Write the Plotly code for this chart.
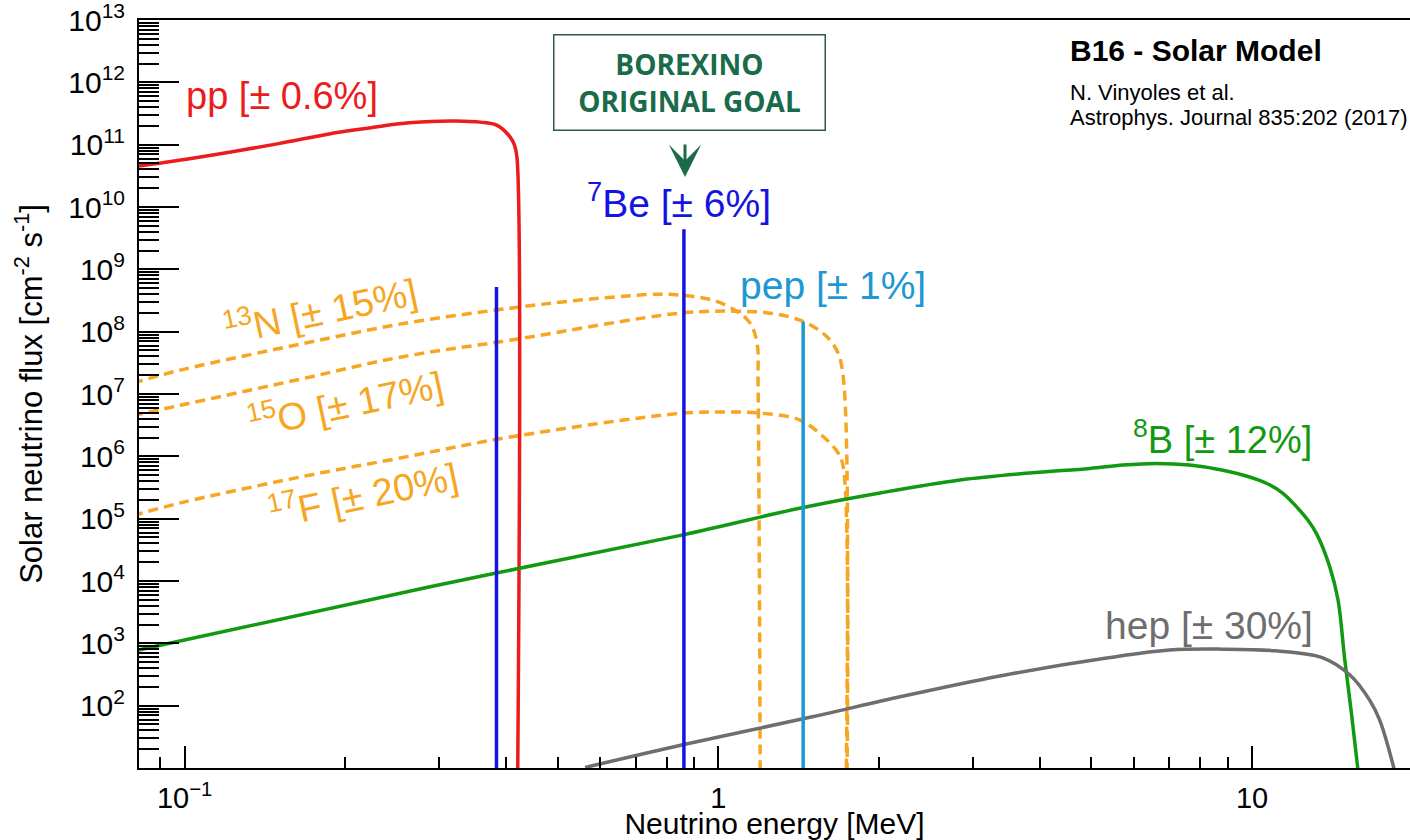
import plotly.graph_objects as go

# ---------------- data ----------------
pp_energy = [0.08, 0.1, 0.122, 0.15, 0.1875, 0.2164, 0.25, 0.2886, 0.32, 0.358, 0.385, 0.4074, 0.415, 0.4194, 0.42]
pp_flux = [4.4e10, 5.8e10, 7.6e10, 1.04e11, 1.5e11, 1.8e11, 2.15e11, 2.35e11, 2.39e11, 2.3e11, 2.04e11, 1.32e11, 9.8e10, 6.3e10, 1]

b8_energy = [0.08, 0.2884, 0.859, 1.42, 2.008, 2.835, 3.83, 4.967, 5.73, 6.62, 7.64, 8.825, 9.76, 10.64, 11.41,
             12.11, 12.72, 13.2, 13.98, 14.49, 14.92, 15.37, 15.8]
b8_flux = [747, 8.1e3, 5.5e4, 1.47e5, 2.58e5, 4.17e5, 5.4e5, 6.4e5, 7.26e5, 7.7e5, 7.26e5, 6.0e5, 4.83e5, 3.7e5, 2.58e5,
           1.56e5, 9.5e4, 5.8e4, 1.7e4, 5.0e3, 545, 71, 9]

hep_energy = [0.563, 0.858, 1.485, 2.2, 3.37, 5.34, 7.0, 8.81, 11.0, 13.57, 15.24, 16.6, 17.34, 18.5]
hep_flux = [10.2, 23.6, 65, 140, 300, 580, 780, 807, 760, 586, 313, 124, 59, 9]

n13_energy = [0.08, 0.0982, 0.1647, 0.2534, 0.4074, 0.6, 0.777, 0.848, 0.977, 1.082, 1.147, 1.182, 1.187, 1.199]
n13_flux = [1.5e7, 2.42e7, 6.3e7, 1.32e8, 2.38e8, 3.44e8, 4.0e8, 3.85e8, 3.2e8, 2.13e8, 1.37e8, 6.5e7, 1.5e7, 1]

o15_energy = [0.08, 0.0982, 0.1647, 0.2534, 0.4074, 0.848, 1.083, 1.25, 1.422, 1.573, 1.666, 1.714, 1.732]
o15_flux = [4.5e6, 6.6e6, 1.73e7, 3.9e7, 7.3e7, 1.98e8, 2.13e8, 1.98e8, 1.53e8, 9.35e7, 5.06e7, 1.89e7, 1]

f17_energy = [0.08, 0.0982, 0.1647, 0.2534, 0.4074, 0.848, 1.007, 1.197, 1.422, 1.573, 1.678, 1.714, 1.738]
f17_flux = [1.12e5, 1.79e5, 4.66e5, 9.4e5, 2.04e6, 4.89e6, 5.13e6, 4.94e6, 3.82e6, 2.06e6, 1.12e6, 6.8e5, 1]

line_names = ["7Be 384", "7Be 862", "pep"]
line_energy = [0.384, 0.862, 1.442]
line_flux = [5.2e8, 4.4e9, 1.44e8]

x_tick_vals = [0.1, 1, 10]
x_tick_text = ["10<sup>\u22121</sup>", "1", "10"]
y_tick_exps = list(range(2, 14))

# ---------------- styling ----------------
RED = "#ec1c1c"
BLUE = "#1414e0"
PEP = "#1d98d2"
ORANGE = "#f6a623"
GREEN = "#129912"
GRAY = "#6e6e6e"
BOXGREEN = "#1b6a4a"
FONT = "Liberation Sans, Arial, Helvetica, sans-serif"

W, H = 1410, 840
ML, MR, MT, MB = 139, 0, 20, 72
PW, PH = W - ML - MR, H - MT - MB


def pxx(x):
    return (x - ML) / PW


def pxy(y):
    return (H - MB - y) / PH


fig = go.Figure()


def add_curve(E, F, color, dash=None, width=3.5):
    fig.add_trace(go.Scatter(
        x=E, y=F, mode="lines",
        line=dict(color=color, width=width, dash=dash, shape="spline", smoothing=1.0),
        hoverinfo="skip", showlegend=False))


DASH = "10px,6px"
add_curve(n13_energy, n13_flux, ORANGE, DASH)
add_curve(o15_energy, o15_flux, ORANGE, DASH)
add_curve(f17_energy, f17_flux, ORANGE, DASH)
add_curve(pp_energy, pp_flux, RED)
add_curve(b8_energy, b8_flux, GREEN)
add_curve(hep_energy, hep_flux, GRAY)

line_colors = [BLUE, BLUE, PEP]
for e, f, c in zip(line_energy, line_flux, line_colors):
    fig.add_trace(go.Scatter(x=[e, e], y=[1, f], mode="lines",
                             line=dict(color=c, width=3.5),
                             hoverinfo="skip", showlegend=False))

x_minor = [k * 10 ** n for n in (-2, -1, 0, 1) for k in range(2, 10)]
y_minor = [k * 10 ** n for n in range(1, 13) for k in range(2, 10)]

fig.update_xaxes(
    type="log", range=[-1.0855, 1.296],
    showline=True, linecolor="black", linewidth=2, mirror=True,
    ticks="inside", ticklen=22, tickwidth=2, tickcolor="black",
    tickmode="array", tickvals=x_tick_vals, ticktext=x_tick_text,
    tickfont=dict(family=FONT, size=29, color="black"),
    minor=dict(tickmode="array", tickvals=x_minor, ticks="inside", ticklen=11,
               tickwidth=2, tickcolor="black", showgrid=False),
    showgrid=False, zeroline=False, automargin=False,
    ticklabelstandoff=3, ticklabeloverflow="allow",
    title=dict(text="Neutrino energy [MeV]", font=dict(family=FONT, size=30, color="black"), standoff=2),
)
fig.update_yaxes(
    type="log", range=[1, 13],
    showline=True, linecolor="black", linewidth=2, mirror=False,
    ticks="inside", ticklen=40, tickwidth=2, tickcolor="black",
    tickmode="array", tickvals=[10 ** e for e in y_tick_exps],
    ticktext=["10<sup>%d</sup>" % e for e in y_tick_exps],
    tickfont=dict(family=FONT, size=30, color="black"),
    minor=dict(tickmode="array", tickvals=y_minor, ticks="inside", ticklen=20,
               tickwidth=2, tickcolor="black", showgrid=False),
    showgrid=False, zeroline=False, automargin=False,
    ticklabelstandoff=6, ticklabeloverflow="allow",
    title=dict(text="Solar neutrino flux [cm<sup>-2</sup> s<sup>-1</sup>]",
               font=dict(family=FONT, size=31, color="black"), standoff=16),
)

labels = [
    ("pp [\u00b1 0.6%]", 281.5, 96, RED, 0, 38),
    ("<sup>7</sup>Be [\u00b1 6%]", 678.5, 201, BLUE, 0, 39),
    ("pep [\u00b1 1%]", 833, 285, PEP, 0, 39),
    ("<sup>13</sup>N [\u00b1 15%]", 320, 309, ORANGE, -12, 38),
    ("<sup>15</sup>O [\u00b1 17%]", 345, 402, ORANGE, -12, 38),
    ("<sup>17</sup>F [\u00b1 20%]", 363, 493, ORANGE, -12, 38),
    ("<sup>8</sup>B [\u00b1 12%]", 1222, 437, GREEN, 0, 38),
    ("hep [\u00b1 30%]", 1209, 625, GRAY, 0, 39),
]
ann = []
for txt, x, y, c, ang, sz in labels:
    ann.append(dict(text=txt, x=pxx(x), y=pxy(y), xref="paper", yref="paper",
                    xanchor="center", yanchor="middle", showarrow=False, textangle=ang,
                    font=dict(family=FONT, size=sz, color=c)))

ann.append(dict(text="<b>B16 - Solar Model</b>", x=pxx(1068), y=pxy(50), xref="paper", yref="paper",
                xanchor="left", yanchor="middle", showarrow=False,
                font=dict(family=FONT, size=30, color="black")))
ann.append(dict(text="N. Vinyoles et al.", x=pxx(1068), y=pxy(92), xref="paper", yref="paper",
                xanchor="left", yanchor="middle", showarrow=False,
                font=dict(family=FONT, size=22, color="black")))
ann.append(dict(text="Astrophys. Journal 835:202 (2017)", x=pxx(1068), y=pxy(118), xref="paper", yref="paper",
                xanchor="left", yanchor="middle", showarrow=False,
                font=dict(family=FONT, size=22, color="black")))
ann.append(dict(text="<b>BOREXINO<br>ORIGINAL GOAL</b>", x=pxx(689.5), y=pxy(82.5), xref="paper", yref="paper",
                xanchor="center", yanchor="middle", showarrow=False,
                width=268, height=92, bgcolor="white", bordercolor="#2c5a45", borderwidth=1.5, borderpad=1,
                font=dict(family="Open Sans, sans-serif", size=28, color=BOXGREEN)))
ann.append(dict(text="", x=pxx(685), y=pxy(177), xref="paper", yref="paper",
                ax=0, ay=-34, showarrow=True, arrowhead=3, arrowsize=1.8, arrowwidth=3,
                arrowcolor=BOXGREEN))

fig.update_layout(
    width=W, height=H,
    margin=dict(l=ML, r=MR, t=MT, b=MB, pad=0),
    paper_bgcolor="white", plot_bgcolor="white",
    showlegend=False,
    annotations=ann,
    font=dict(family=FONT, color="black"),
)

fig.write_html("out.html")
